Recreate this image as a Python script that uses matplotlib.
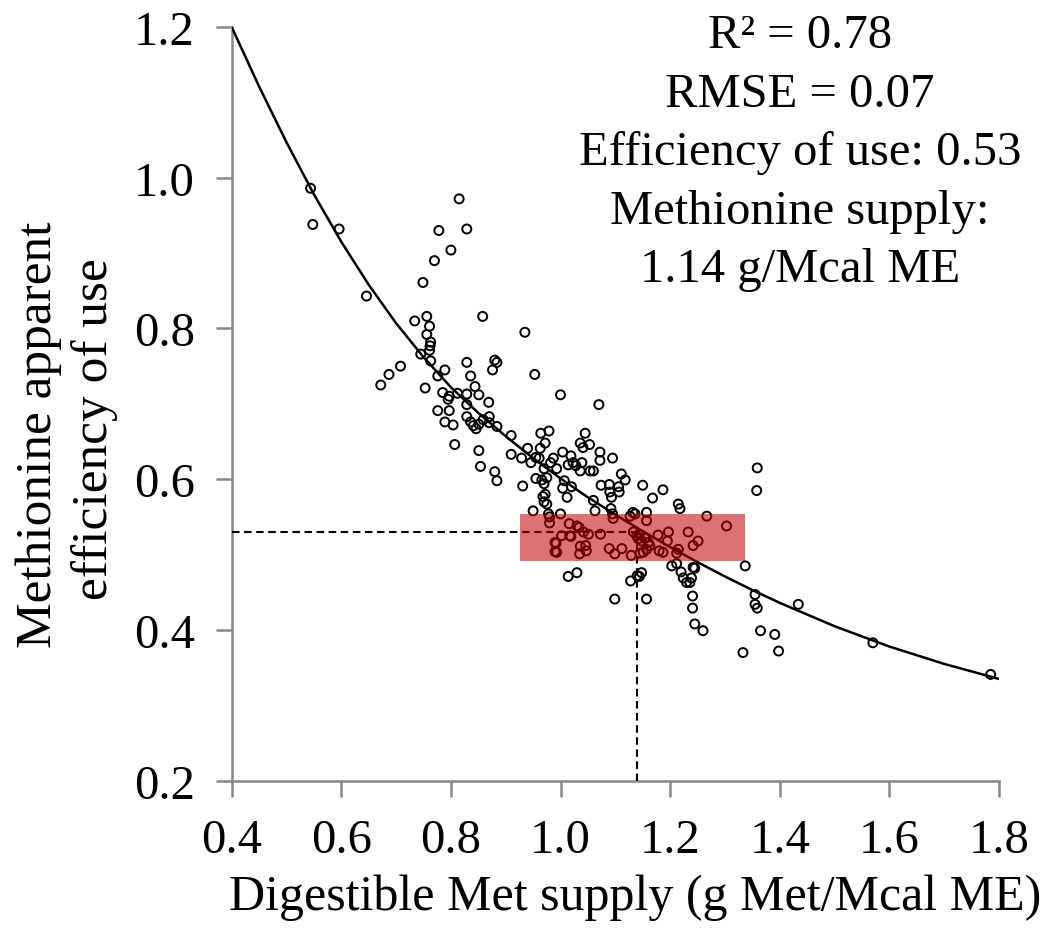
"""
Methionine apparent efficiency of use vs digestible Met supply
"""

import matplotlib
matplotlib.use("Agg")
import matplotlib.pyplot as plt
from matplotlib.patches import Rectangle

# -------------------------------------------------------
# Data
# -------------------------------------------------------

met_supply = [
    0.544, 0.548, 0.596, 0.646, 0.672, 0.687, 0.708, 0.734, 0.745, 0.749,
    0.756, 0.761, 0.756, 0.763, 0.762, 0.761, 0.763, 0.753, 0.770, 0.778,
    0.800, 0.815, 0.829, 0.858, 0.776, 0.789, 0.776, 0.829, 0.836, 0.880,
    0.884, 0.876, 0.935, 0.953, 1.000, 1.070, 0.844, 0.785, 0.797, 0.795,
    0.812, 0.829, 0.851, 0.829, 0.869, 0.797, 0.829, 0.870, 0.789, 0.804,
    0.836, 0.841, 0.846, 0.851, 0.859, 0.870, 0.884, 0.807, 0.851, 0.854,
    0.880, 0.884, 0.910, 0.910, 0.929, 0.931, 0.940, 0.946, 0.955, 0.961,
    0.963, 0.964, 0.979, 0.972, 0.987, 0.982, 1.004, 0.993, 0.970, 0.955,
    0.966, 0.975, 0.970, 1.019, 1.023, 1.014, 1.028, 1.039, 1.045, 1.036,
    1.041, 1.053, 1.036, 1.054, 1.060, 1.072, 1.072, 1.007, 1.020, 1.074,
    0.968, 0.972, 0.970, 0.975, 1.012, 1.004, 1.095, 1.089, 1.106, 1.090,
    1.093, 1.107, 1.111, 1.118, 1.150, 1.060, 0.950, 0.978, 0.980, 1.000,
    0.980, 1.063, 1.092, 1.095, 1.096, 1.132, 1.136, 1.127, 1.157, 1.157,
    1.016, 1.030, 1.034, 1.042, 1.051, 1.073, 1.017, 0.992, 1.133, 1.144,
    1.154, 1.160, 1.163, 1.187, 1.168, 1.215, 1.218, 1.267, 1.303, 1.036,
    1.046, 1.047, 1.035, 1.139, 1.142, 1.148, 1.157, 1.151, 1.145, 1.178,
    1.197, 1.195, 1.233, 1.251, 1.242, 1.089, 1.099, 1.112, 1.129, 1.187,
    1.215, 1.212, 1.203, 1.212, 1.242, 1.337, 0.990, 1.002, 1.019, 0.990,
    0.993, 1.180, 1.014, 1.030, 1.128, 1.140, 1.148, 1.144, 1.099, 1.157,
    1.358, 1.359, 1.220, 1.224, 1.230, 1.236, 1.239, 1.245, 1.241, 1.241,
    1.245, 1.260, 1.355, 1.355, 1.359, 1.365, 1.391, 1.434, 1.333, 1.398,
    1.570, 1.785,
]

met_efficiency = [
    0.986, 0.938, 0.932, 0.843, 0.725, 0.739, 0.750, 0.810, 0.766, 0.861,
    0.816, 0.803, 0.792, 0.782, 0.777, 0.771, 0.757, 0.721, 0.890, 0.930,
    0.904, 0.972, 0.932, 0.816, 0.737, 0.745, 0.691, 0.755, 0.737, 0.758,
    0.755, 0.745, 0.795, 0.739, 0.712, 0.699, 0.723, 0.715, 0.710, 0.706,
    0.714, 0.713, 0.712, 0.699, 0.702, 0.691, 0.683, 0.683, 0.676, 0.672,
    0.676, 0.671, 0.667, 0.673, 0.679, 0.675, 0.670, 0.646, 0.638, 0.617,
    0.610, 0.598, 0.658, 0.633, 0.628, 0.591, 0.641, 0.622, 0.629, 0.628,
    0.641, 0.661, 0.664, 0.648, 0.628, 0.622, 0.636, 0.614, 0.614, 0.601,
    0.599, 0.602, 0.594, 0.631, 0.622, 0.619, 0.618, 0.622, 0.661, 0.648,
    0.642, 0.646, 0.611, 0.611, 0.611, 0.636, 0.625, 0.598, 0.590, 0.592,
    0.577, 0.580, 0.570, 0.567, 0.576, 0.588, 0.628, 0.593, 0.590, 0.583,
    0.576, 0.583, 0.607, 0.599, 0.592, 0.572, 0.558, 0.554, 0.550, 0.554,
    0.542, 0.558, 0.561, 0.554, 0.548, 0.556, 0.554, 0.551, 0.556, 0.545,
    0.541, 0.538, 0.536, 0.530, 0.527, 0.527, 0.525, 0.515, 0.530, 0.527,
    0.522, 0.516, 0.512, 0.586, 0.575, 0.567, 0.561, 0.551, 0.538, 0.511,
    0.512, 0.505, 0.501, 0.525, 0.521, 0.518, 0.507, 0.503, 0.502, 0.526,
    0.530, 0.518, 0.530, 0.518, 0.512, 0.508, 0.501, 0.508, 0.499, 0.503,
    0.507, 0.502, 0.485, 0.488, 0.483, 0.485, 0.516, 0.525, 0.524, 0.504,
    0.503, 0.505, 0.471, 0.476, 0.465, 0.472, 0.476, 0.471, 0.441, 0.441,
    0.585, 0.615, 0.477, 0.469, 0.463, 0.463, 0.469, 0.482, 0.445, 0.429,
    0.408, 0.399, 0.447, 0.434, 0.429, 0.399, 0.394, 0.434, 0.370, 0.372,
    0.383, 0.341,
]

# fitted response curve, read along its length
curve_supply = [0.40, 0.45, 0.50, 0.55, 0.60, 0.65, 0.70, 0.75, 0.80, 0.85,
                0.90, 0.95, 1.00, 1.05, 1.10, 1.15, 1.20, 1.25, 1.30, 1.35,
                1.40, 1.50, 1.60, 1.70, 1.80]
curve_efficiency = [1.200, 1.121, 1.047, 0.978, 0.915, 0.858, 0.807, 0.762, 0.722, 0.688,
                    0.657, 0.628, 0.601, 0.576, 0.553, 0.531, 0.510, 0.490, 0.471, 0.453,
                    0.436, 0.405, 0.378, 0.355, 0.335]

optimum_supply = 1.14
optimum_efficiency = 0.53

box_supply = [0.927, 1.337]
box_efficiency = [0.492, 0.554]

stats_lines = ["R² = 0.78", "RMSE = 0.07", "Efficiency of use: 0.53",
               "Methionine supply:", "1.14 g/Mcal ME"]

y_label_lines = ["Methionine apparent", "efficiency of use"]
x_label = "Digestible Met supply (g Met/Mcal ME)"

x_ticks = [0.4, 0.6, 0.8, 1.0, 1.2, 1.4, 1.6, 1.8]
y_ticks = [0.2, 0.4, 0.6, 0.8, 1.0, 1.2]

# -------------------------------------------------------
# Figure
# -------------------------------------------------------

plt.rcParams["font.family"] = ["Liberation Serif", "DejaVu Serif"]

W, H = 1050, 929
fig = plt.figure(figsize=(W / 100, H / 100), dpi=100)
ax = fig.add_axes([231.7 / W, 1 - 781.7 / H, 767.2 / W, 753.7 / H])

ax.scatter(met_supply, met_efficiency, s=42, facecolors="none",
           edgecolors="black", linewidths=1.4, zorder=3)

ax.plot(curve_supply, curve_efficiency, color="black", lw=1.8, zorder=4)

ax.plot([0.4, optimum_supply], [optimum_efficiency, optimum_efficiency],
        color="black", lw=1.5, linestyle=(0, (3.6, 2.2)), zorder=4)
ax.plot([optimum_supply, optimum_supply], [0.2, optimum_efficiency],
        color="black", lw=1.5, linestyle=(0, (3.6, 2.2)), zorder=4)

ax.add_patch(Rectangle((box_supply[0], box_efficiency[0]),
                       box_supply[1] - box_supply[0],
                       box_efficiency[1] - box_efficiency[0],
                       facecolor=(0.75, 0.0, 0.0), alpha=0.55, lw=0, zorder=5))

ax.set_xlim(0.4, 1.8)
ax.set_ylim(0.2, 1.2)
ax.set_xticks(x_ticks)
ax.set_yticks(y_ticks)
ax.set_xticklabels([f"{v:.1f}" for v in x_ticks])
ax.set_yticklabels([f"{v:.1f}" for v in y_ticks])

for side in ["top", "right"]:
    ax.spines[side].set_visible(False)
for side in ["left", "bottom"]:
    ax.spines[side].set_color("#888888")
    ax.spines[side].set_linewidth(1.8)

ax.tick_params(direction="out", length=11.5, width=1.8, color="#888888",
               labelcolor="black", labelsize=35)
ax.tick_params(axis="y", pad=15)
ax.tick_params(axis="x", pad=15)

# -------------------------------------------------------
# Texts
# -------------------------------------------------------

baselines = [48, 107, 165, 224, 282]
for line, base in zip(stats_lines, baselines):
    fig.text(800 / W, 1 - base / H, line, ha="center", va="baseline",
             fontsize=35)

fig.text(39 / W, 1 - 435 / H, y_label_lines[0], rotation=90,
         ha="center", va="center", fontsize=37)
fig.text(95 / W, 1 - 429 / H, y_label_lines[1], rotation=90,
         ha="center", va="center", fontsize=37)

fig.text(635 / W, 1 - 910 / H, x_label, ha="center", va="baseline",
         fontsize=36)

fig.savefig("out.png", dpi=100)
